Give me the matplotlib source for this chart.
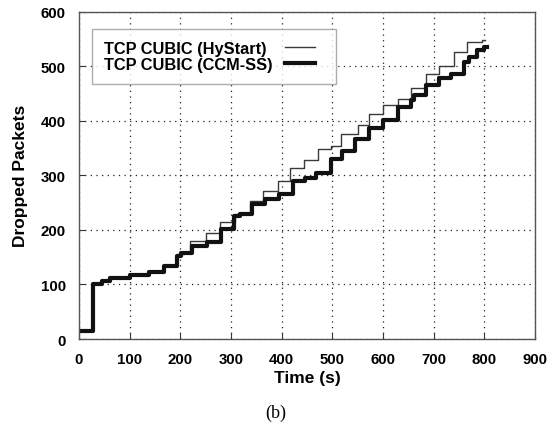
import matplotlib
matplotlib.use("Agg")
import matplotlib.pyplot as plt
from matplotlib.lines import Line2D
from matplotlib.legend_handler import HandlerLine2D

# HyStart (thin line): step change times (s) and dropped packets
hy_t = [0, 28, 45, 61, 100, 139, 168, 194, 207, 220, 250, 279, 308, 338, 364,
        393, 416, 445, 472, 498, 517, 550, 573, 600, 629, 655, 685, 711, 740,
        766, 795, 802]
hy_v = [15, 100, 107, 111, 117, 122, 134, 155, 159, 180, 195, 215, 230, 253, 271,
        290, 314, 329, 348, 354, 375, 393, 412, 429, 440, 461, 485, 500, 526,
        545, 549, 549]

# CCM-SS (thick line)
cc_t = [0, 28, 45, 61, 100, 139, 168, 194, 201, 224, 253, 281, 306, 318, 342,
        368, 395, 423, 446, 468, 497, 519, 545, 573, 600, 629, 655, 661, 685,
        711, 735, 760, 769, 786, 799, 805]
cc_v = [15, 100, 107, 111, 117, 122, 134, 152, 157, 171, 178, 201, 225, 229, 247,
        256, 266, 290, 296, 305, 330, 345, 366, 387, 402, 426, 438, 448, 465,
        479, 486, 508, 517, 529, 535, 535]

xticks = [0, 100, 200, 300, 400, 500, 600, 700, 800, 900]
yticks = [0, 100, 200, 300, 400, 500, 600]
labels = ['TCP CUBIC (HyStart)', 'TCP CUBIC (CCM-SS)']

plt.rcParams['font.family'] = ['Liberation Sans', 'DejaVu Sans']


class ShortLine(HandlerLine2D):
    """Legend line drawn over only part of the handle box (extra right padding)."""
    def __init__(self, frac, **kw):
        super().__init__(**kw)
        self.frac = frac

    def get_xdata(self, legend, xdescent, ydescent, width, height, fontsize):
        xd, xm = super().get_xdata(legend, xdescent, ydescent, width, height, fontsize)
        return [-xdescent, -xdescent + width * self.frac], xm


fig = plt.figure(figsize=(5.49, 4.31), dpi=100)
ax = fig.add_axes([0.1439, 0.2111, 0.8306, 0.7594])

ax.plot(hy_t, hy_v, drawstyle='steps-post', color='#3a3a3a', lw=1.0, label=labels[0])
ax.plot(cc_t, cc_v, drawstyle='steps-post', color='#111111', lw=3.0, label=labels[1])

ax.set_xlim(0, 900)
ax.set_ylim(0, 600)
ax.set_xticks(xticks)
ax.set_yticks(yticks)
ax.set_xticklabels([str(v) for v in xticks], fontsize=10.8, fontweight='bold')
ax.set_yticklabels([str(v) for v in yticks], fontsize=10.8, fontweight='bold')
ax.tick_params(axis='x', direction='in', length=4, width=0.8, color='#333333', pad=9)
ax.tick_params(axis='y', direction='in', length=4, width=0.8, color='#333333', pad=9.4)
ax.grid(True, linestyle=(0, (1, 3.5)), color='#222222', lw=0.9)

for s in ax.spines.values():
    s.set_color('#555555')
    s.set_linewidth(1.0)

ax.set_xlabel('Time (s)', fontsize=12.5, fontweight='bold', labelpad=3)
ax.set_ylabel('Dropped Packets', fontsize=12.5, fontweight='bold', labelpad=9)

leg = ax.legend(loc='upper left', bbox_to_anchor=(0.0285, 0.947), markerfirst=False,
                prop={'weight': 'bold', 'size': 11.8}, frameon=True, fancybox=False,
                edgecolor='#999999', handlelength=2.38, borderpad=0.72,
                labelspacing=0.08, handletextpad=0.77, borderaxespad=0,
                handler_map={Line2D: ShortLine(0.77)})
leg.get_frame().set_linewidth(1.0)

# left-align the labels while keeping the handles aligned on the right
fig.canvas.draw()
widths = [t.get_window_extent().width for t in leg.texts]
wmax = max(widths)
col = leg._legend_handle_box.get_children()[0]
col.align = 'left'
for row, w in zip(col.get_children(), widths):
    row.sep = row.sep + (wmax - w) * 72.0 / fig.dpi

fig.text(0.503, 0.040, '(b)', ha='center', va='center', fontsize=13,
         family=['Liberation Serif', 'DejaVu Serif'])

fig.savefig('out.png', dpi=100)
